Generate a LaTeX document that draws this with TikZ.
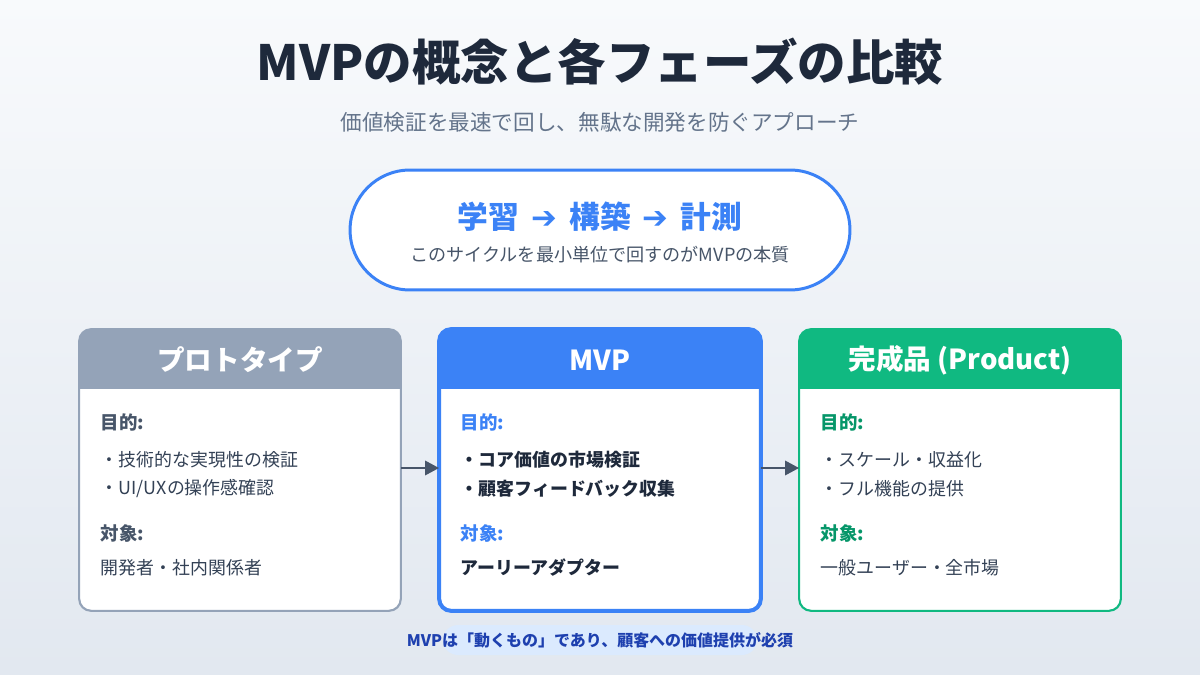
\documentclass[tikz,border=0pt]{standalone}
\usepackage{fontspec}
\setmainfont{Noto Sans CJK JP}
\newfontfamily\symfont{DejaVu Sans}
\usetikzlibrary{arrows.meta}

\definecolor{bgtop}{HTML}{F8FAFC}
\definecolor{bgbot}{HTML}{E2E8F0}
\definecolor{ctitle}{HTML}{1E293B}
\definecolor{csub}{HTML}{64748B}
\definecolor{cslate}{HTML}{475569}
\definecolor{ctext}{HTML}{334155}
\definecolor{cgray}{HTML}{94A3B8}
\definecolor{cblue}{HTML}{3B82F6}
\definecolor{cgreen}{HTML}{10B981}
\definecolor{cgreendk}{HTML}{059669}
\definecolor{cnote}{HTML}{1E40AF}
\definecolor{cnotebg}{HTML}{DBEAFE}

\tikzset{
every picture/.style={
line width=1pt
},
card/.style={minimum width=6.4cm, minimum height=5.6cm, rounded corners=0.24cm, fill=white, inner sep=0},
hdr/.style={text=white, font=\bfseries\fontsize{15.7}{18}\selectfont},
lbl/.style={anchor=west, inner sep=0, font=\bfseries\fontsize{10.5}{12}\selectfont},
item/.style={anchor=west, inner sep=0, text=ctext, font=\fontsize{10.2}{12}\selectfont},
flow/.style={-{Triangle[length=0.28cm,width=0.28cm]}, draw=cslate, line width=1.7pt}
}

\begin{document}
\begin{tikzpicture}[x=0.02cm, y=-0.02cm]
  % background
  \shade[top color=bgtop, bottom color=bgbot] (0,0) rectangle (1200,675);

  % title
  \node[text=ctitle, font=\bfseries\fontsize{27.6}{32}\selectfont] (title) at (600,62) {MVPの概念と各フェーズの比較};
  \node[text=csub, font=\fontsize{12.3}{15}\selectfont] (subtitle) at (600,122) {価値検証を最速で回し、無駄な開発を防ぐアプローチ};

  % cycle
  \node[draw=cblue, line width=1.7pt, fill=white, rounded corners=1.2cm, minimum width=10cm, minimum height=2.4cm] (cycle) at (600,230) {};
  \node[text=cblue, font=\bfseries\fontsize{17.5}{21}\selectfont] (cycleT) at (600,217) {学習\ \,{\symfont ➔}\,\ 構築\ \,{\symfont ➔}\,\ 計測};
  \node[text=cslate, font=\fontsize{10.3}{12}\selectfont] (cycleS) at (600,255) {このサイクルを最小単位で回すのがMVPの本質};

  % cards
  \foreach \nm/\cx/\col/\lw/\ttl in {proto/240/cgray/1.2pt/プロトタイプ, mvp/600/cblue/2.3pt/MVP, prod/960/cgreen/1.2pt/{完成品 (Product)}}{
    \node[card] (\nm) at (\cx,470) {};
    \begin{scope}
      \clip[rounded corners=0.24cm] (\nm.south west) rectangle (\nm.north east);
      \fill[\col] (\nm.north west) rectangle ([yshift=-1.2cm]\nm.north east);
    \end{scope}
    \draw[\col, line width=\lw, rounded corners=0.24cm] (\nm.south west) rectangle (\nm.north east);
    \node[hdr] (\nm T) at (\cx,360) {\ttl};
  }

  % prototype
  \node[lbl, text=cslate] (protoGoal) at (100,422) {目的:};
  \node[item] (protoA) at (100,460) {・技術的な実現性の検証};
  \node[item] (protoB) at (100,489) {・UI/UXの操作感確認};
  \node[lbl, text=cslate] (protoWho) at (100,533) {対象:};
  \node[item] (protoC) at (100,568) {開発者・社内関係者};

  % mvp
  \node[lbl, text=cblue] (mvpGoal) at (460,422) {目的:};
  \node[item, text=ctitle, font=\bfseries\fontsize{10.2}{12}\selectfont] (mvpA) at (460,460) {・コア価値の市場検証};
  \node[item, text=ctitle, font=\bfseries\fontsize{10.2}{12}\selectfont] (mvpB) at (460,489) {・顧客フィードバック収集};
  \node[lbl, text=cblue] (mvpWho) at (460,533) {対象:};
  \node[item, text=ctitle, font=\bfseries\fontsize{10.2}{12}\selectfont] (mvpC) at (460,568) {アーリーアダプター};

  % product
  \node[lbl, text=cgreendk] (prodGoal) at (820,422) {目的:};
  \node[item] (prodA) at (820,460) {・スケール・収益化};
  \node[item] (prodB) at (820,489) {・フル機能の提供};
  \node[lbl, text=cgreendk] (prodWho) at (820,533) {対象:};
  \node[item] (prodC) at (820,568) {一般ユーザー・全市場};

  % arrows
  \draw[flow] ([yshift=0.04cm]proto.east) -- ([yshift=0.04cm]mvp.west);
  \draw[flow] ([yshift=0.04cm]mvp.east) -- ([yshift=0.04cm]prod.west);

  % note
  \fill[cnotebg, rounded corners=0.3cm] (443,625) rectangle (757,655);
  \node[text=cnote, font=\bfseries\fontsize{9.1}{11}\selectfont] (note) at (600,640) {MVPは「動くもの」であり、顧客への価値提供が必須};
\end{tikzpicture}
\end{document}
